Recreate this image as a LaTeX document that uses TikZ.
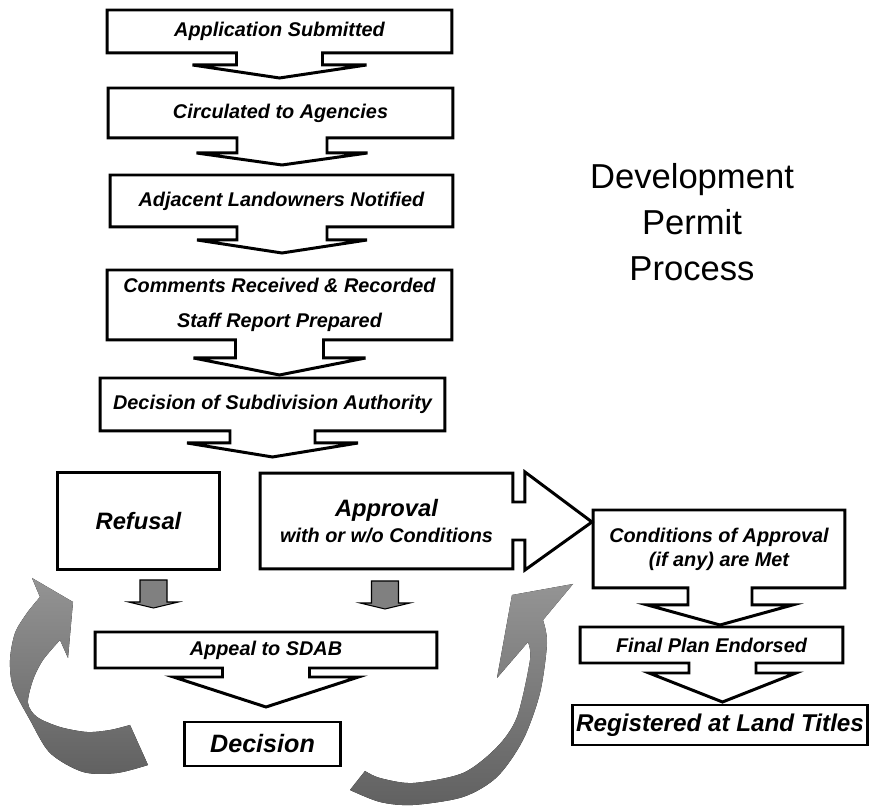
\documentclass[tikz,border=0pt]{standalone}
\usepackage{fontspec}
\setmainfont{Liberation Sans}
\usetikzlibrary{calc}

% box with a downward arrow under it: node, x shift, stem half width, stem length, wing half width, head length
\newcommand{\downcallout}[6]{%
  \draw[callout] (#1.south west) -- (#1.north west) -- (#1.north east) -- (#1.south east)
    -- ($(#1.south)+(#2+#3,0)$) -- ($(#1.south)+(#2+#3,#4)$) -- ($(#1.south)+(#2+#5,#4)$)
    -- ($(#1.south)+(#2,#4+#6)$)
    -- ($(#1.south)+(#2-#5,#4)$) -- ($(#1.south)+(#2-#3,#4)$) -- ($(#1.south)+(#2-#3,0)$) -- cycle;}

\begin{document}
\begin{tikzpicture}[x=0.02cm, y=-0.02cm,
  every node/.style={inner sep=0pt, outer sep=0pt, align=center},
  stage/.style={font=\bfseries\itshape\fontsize{11.3}{13.6}\selectfont},
  bigstage/.style={font=\bfseries\itshape\fontsize{13.8}{15}\selectfont},
  callout/.style={line width=1.7pt, miter limit=10},
  grayarrow/.style={draw=black, fill=black!50, line width=0.6pt},
  sweep/.style={top color=black!42, bottom color=black!62, draw=none}]
    \useasboundingbox (0,0) rectangle (870,807);

    % Title
    \node[font=\fontsize{19.7}{26}\selectfont] (T_DPP) at (692,222) {Development\\Permit\\Process};

    % Main column
    \node[stage, minimum width=6.9cm, minimum height=0.86cm] (S_APP) at (279.5,31.5) {Application Submitted};
    \node[stage, minimum width=6.9cm, minimum height=1.0cm] (S_CIRC) at (280.5,113) {Circulated to Agencies};
    \node[stage, minimum width=6.86cm, minimum height=1.04cm] (S_ADJ) at (281.5,201) {Adjacent Landowners Notified};
    \node[stage, font=\bfseries\itshape\fontsize{11.3}{19.8}\selectfont, minimum width=6.9cm, minimum height=1.4cm] (S_COM) at (279.5,305) {Comments Received \& Recorded\\Staff Report Prepared};
    \node[stage, minimum width=6.9cm, minimum height=1.06cm] (S_DEC) at (272.5,404.5) {Decision of Subdivision Authority};

    % Outcomes
    \node[bigstage, font=\bfseries\itshape\fontsize{13.5}{15}\selectfont, minimum width=3.26cm, minimum height=1.96cm] (S_REF) at (138.5,521) {Refusal};
    \node[stage, minimum width=5.06cm, minimum height=1.92cm] (S_APR) at (386.5,521) {{\fontsize{13.5}{15}\selectfont Approval}\\[1pt]with or w/o Conditions};
    \node[stage, minimum width=5.04cm, minimum height=1.56cm] (S_CON) at (719,549) {Conditions of Approval\\(if any) are Met};
    \node[stage, minimum width=5.26cm, minimum height=0.72cm] (S_FIN) at (711.5,645) {Final Plan Endorsed};
    \node[bigstage, minimum width=5.92cm, minimum height=0.8cm] (S_REG) at (720,725) {Registered at Land Titles};
    \node[stage, minimum width=6.84cm, minimum height=0.72cm] (S_SDAB) at (266,650) {Appeal to SDAB};
    \node[bigstage, font=\bfseries\itshape\fontsize{14.3}{15}\selectfont, minimum width=3.14cm, minimum height=0.88cm] (S_FDEC) at (262.5,744) {Decision};

    % Boxes with arrows
    \downcallout{S_APP}{0}{43}{12}{87}{13}
    \downcallout{S_CIRC}{1.5}{45}{15}{85.5}{12}
    \downcallout{S_ADJ}{0.5}{45}{13}{85}{13}
    \downcallout{S_COM}{0}{44}{18}{86}{17}
    \downcallout{S_DEC}{0}{42.5}{12}{85.5}{14}
    \downcallout{S_CON}{1}{32}{17}{72.5}{20}
    \downcallout{S_FIN}{11}{33.5}{10}{73.5}{29}
    \downcallout{S_SDAB}{0}{43.5}{9}{92.5}{30}
    \draw[callout] (S_REF.south west) rectangle (S_REF.north east);
    \draw[callout] (S_REG.south west) rectangle (S_REG.north east);
    \draw[callout] (S_FDEC.south west) rectangle (S_FDEC.north east);
    \draw[callout] (S_APR.south east) -- (S_APR.south west) -- (S_APR.north west) -- (S_APR.north east)
      -- ($(S_APR.east)+(0,-19)$) -- ($(S_APR.east)+(12,-19)$) -- ($(S_APR.east)+(12,-49)$)
      -- ($(S_APR.east)+(79,1)$)
      -- ($(S_APR.east)+(12,49)$) -- ($(S_APR.east)+(12,19)$) -- ($(S_APR.east)+(0,19)$) -- cycle;

    % Gray arrows to the appeal
    \draw[grayarrow, shift={($(S_REF.south)+(15,10)$)}] (-13.5,0) -- (13.5,0) -- (13.5,22) -- (25,22) -- (0,28) -- (-25,22) -- (-13.5,22) -- cycle;
    \draw[grayarrow, shift={($(S_APR.south)+(-1.5,12)$)}] (-13.5,0) -- (13.5,0) -- (13.5,22) -- (25,22) -- (0,28) -- (-25,22) -- (-13.5,22) -- cycle;

    % Curved arrows back up
    \fill[sweep] (148,765) -- plot[smooth] coordinates {(148,765) (117,773) (83,772) (50,753) (30,720) (13,687) (10,660) (15,633) (27,613) (40,597)}
      -- (32,578) -- (73,602) -- (68,658)
      -- plot[smooth] coordinates {(60,640) (43,660) (33,680) (28,703) (37,717) (60,727) (87,732) (110,730) (130,725)} -- cycle;
    \fill[sweep] (350,790) -- plot[smooth] coordinates {(350,790) (380,802) (413,805) (463,797) (497,777) (523,740) (540,693) (547,643) (543,620)}
      -- (573,584) -- (512,595) -- (497,678)
      -- plot[smooth] coordinates {(528,642) (530,660) (517,717) (497,747) (463,773) (413,783) (380,778) (365,771)} -- cycle;
\end{tikzpicture}
\end{document}
